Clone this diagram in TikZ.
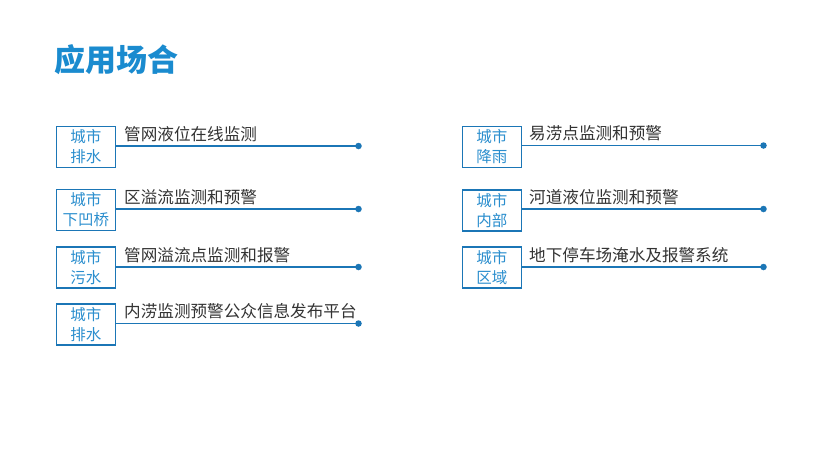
\documentclass[tikz,border=0pt]{standalone}
\usepackage{fontspec}
\newfontfamily\cjk{Noto Sans CJK SC}
\definecolor{titleblue}{HTML}{1A8BCF}
\definecolor{boxblue}{HTML}{1B76B6}
\definecolor{labblue}{HTML}{2A8ECE}
\definecolor{txtgray}{HTML}{333333}
\tikzset{
  catbox/.style={draw=boxblue, line width=1.6pt, minimum width=59pt, minimum height=41pt, inner sep=0pt, anchor=north west,
    align=center, text=labblue, font=\cjk\fontsize{15.5}{20}\selectfont},
  itemtxt/.style={anchor=base west, inner sep=0pt, text=txtgray, font=\cjk\fontsize{16.6}{16}\selectfont},
  conn/.style={draw=boxblue, line width=1.2pt},
  enddot/.style={fill=boxblue, draw=none, circle, minimum size=6.5pt, inner sep=0pt},
}
\begin{document}
\begin{tikzpicture}[x=1pt,y=-1pt]
\useasboundingbox (0,0) rectangle (827,451);
\fill[white] (0,0) rectangle (827,451);
\node[anchor=base west, inner sep=0pt, text=titleblue, font=\cjk\bfseries\fontsize{31}{31}\selectfont] (title) at (54,71) {应用场合};
% left column
\node[catbox] (b1) at (55.5,125.5) {城市\\排水};
\node[catbox] (b2) at (55.5,188.5) {城市\\下凹桥};
\node[catbox] (b3) at (55.5,246) {城市\\污水};
\node[catbox] (b4) at (55.5,303) {城市\\排水};
\node[enddot] (d1) at (358.5,146) {};
\node[enddot] (d2) at (358.5,209) {};
\node[enddot] (d3) at (358.5,267) {};
\node[enddot] (d4) at (358.5,323.5) {};
\draw[conn] (b1.east |- d1) -- (d1.center);
\draw[conn] (b2.east |- d2) -- (d2.center);
\draw[conn] (b3.east |- d3) -- (d3.center);
\draw[conn] (b4.east |- d4) -- (d4.center);
\node[itemtxt] (t1) at (124,140) {管网液位在线监测};
\node[itemtxt] (t2) at (124,203) {区溢流监测和预警};
\node[itemtxt] (t3) at (124,261) {管网溢流点监测和报警};
\node[itemtxt] (t4) at (124,317.5) {内涝监测预警公众信息发布平台};
% right column
\node[catbox] (r1) at (461.5,125.5) {城市\\降雨};
\node[catbox] (r2) at (461.5,189) {城市\\内部};
\node[catbox] (r3) at (461.5,246) {城市\\区域};
\node[enddot] (e1) at (763.5,145.5) {};
\node[enddot] (e2) at (763.5,209) {};
\node[enddot] (e3) at (763.5,267) {};
\draw[conn] (r1.east |- e1) -- (e1.center);
\draw[conn] (r2.east |- e2) -- (e2.center);
\draw[conn] (r3.east |- e3) -- (e3.center);
\node[itemtxt] (u1) at (529,139.5) {易涝点监测和预警};
\node[itemtxt] (u2) at (529,203) {河道液位监测和预警};
\node[itemtxt] (u3) at (529,261) {地下停车场淹水及报警系统};
\end{tikzpicture}
\end{document}
